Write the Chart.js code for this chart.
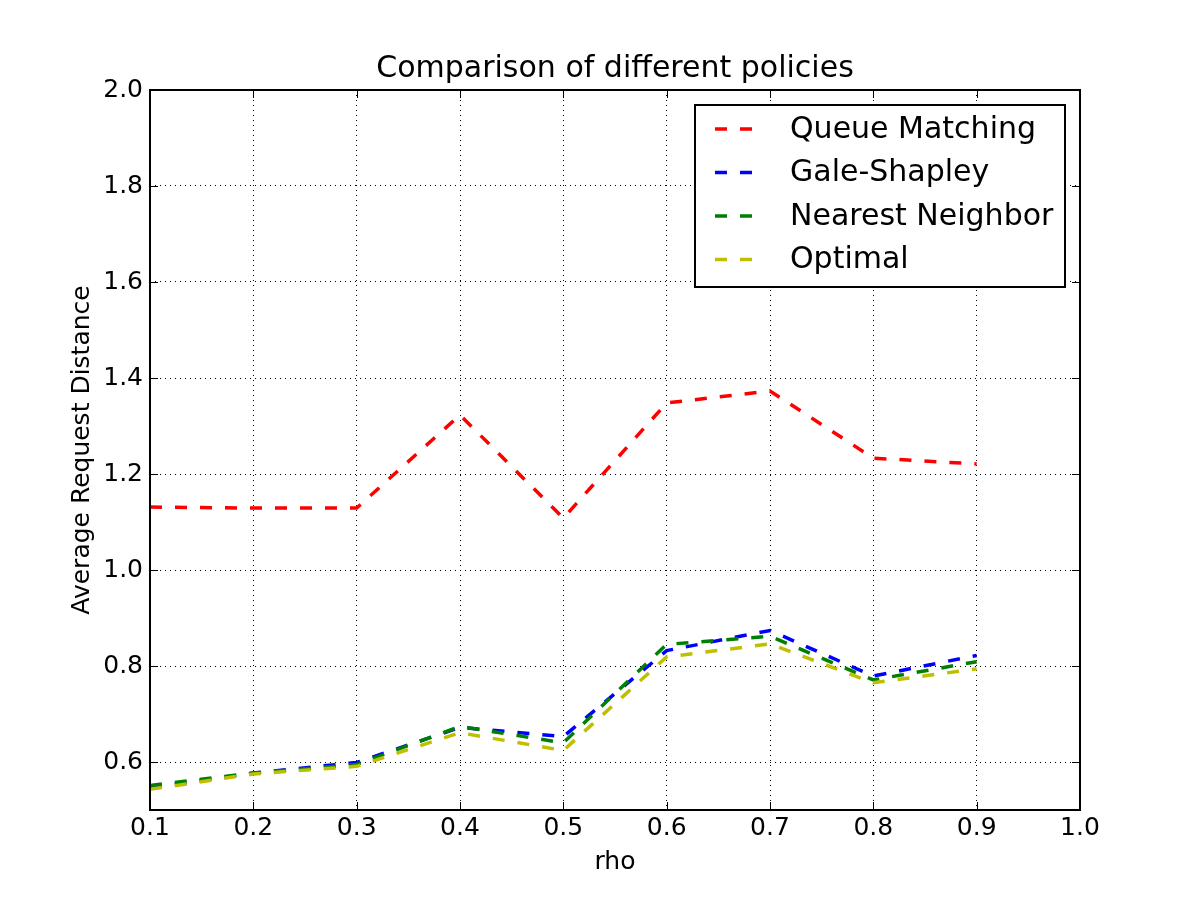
<!DOCTYPE html>
<html>
<head>
<meta charset="utf-8">
<script src="https://cdn.jsdelivr.net/npm/chart.js"></script>
<style>
  html, body { margin: 0; padding: 0; background: #fff; }
  #wrap { width: 1200px; height: 900px; }
</style>
</head>
<body>
<div id="wrap"><canvas id="chart" width="1200" height="900"></canvas></div>
<script>
// 데이터
const rho = [0.1, 0.2, 0.3, 0.4, 0.5, 0.6, 0.7, 0.8, 0.9];
const queueMatching = [1.131, 1.129, 1.129, 1.323, 1.108, 1.348, 1.373, 1.233, 1.221];
const galeShapley = [0.546, 0.577, 0.599, 0.672, 0.653, 0.832, 0.874, 0.779, 0.822];
const nearestNeighbor = [0.551, 0.577, 0.595, 0.674, 0.640, 0.845, 0.862, 0.771, 0.809];
const optimal = [0.543, 0.575, 0.591, 0.661, 0.624, 0.819, 0.846, 0.765, 0.794];
const seriesNames = ['Queue Matching', 'Gale-Shapley', 'Nearest Neighbor', 'Optimal'];
const xTicks = [0.1, 0.2, 0.3, 0.4, 0.5, 0.6, 0.7, 0.8, 0.9, 1.0];
const yTicks = [0.6, 0.8, 1.0, 1.2, 1.4, 1.6, 1.8, 2.0];

const FONT = "'DejaVu Sans', sans-serif";
const DASH = [12, 13];

function toPoints(values) {
  return rho.map((x, i) => ({ x: x, y: values[i] }));
}

function makeSet(label, values, color, order) {
  return {
    label: label,
    data: toPoints(values),
    borderColor: color,
    backgroundColor: color,
    borderWidth: 3.5,
    borderDash: DASH,
    borderCapStyle: 'butt',
    pointRadius: 0,
    fill: false,
    tension: 0,
    order: order
  };
}

// 제목, 범례, 안쪽 눈금 그리기
const decorPlugin = {
  id: 'decor',
  afterDraw(chart) {
    const ctx = chart.ctx;
    const area = chart.chartArea;
    const xs = chart.scales.x;
    const ys = chart.scales.y;

    ctx.save();
    // 테두리
    ctx.strokeStyle = '#000';
    ctx.lineWidth = 2;
    ctx.setLineDash([]);
    ctx.strokeRect(area.left, area.top, area.right - area.left, area.bottom - area.top);

    // 안쪽 눈금
    ctx.lineWidth = 1;
    const len = 8;
    xTicks.forEach(v => {
      const px = Math.round(xs.getPixelForValue(v)) + 0.5;
      ctx.beginPath();
      ctx.moveTo(px, area.bottom); ctx.lineTo(px, area.bottom - len);
      ctx.moveTo(px, area.top); ctx.lineTo(px, area.top + len);
      ctx.stroke();
    });
    yTicks.forEach(v => {
      const py = Math.round(ys.getPixelForValue(v)) + 0.5;
      ctx.beginPath();
      ctx.moveTo(area.left, py); ctx.lineTo(area.left + len, py);
      ctx.moveTo(area.right, py); ctx.lineTo(area.right - len, py);
      ctx.stroke();
    });

    // 제목
    ctx.fillStyle = '#000';
    ctx.font = '30px ' + FONT;
    ctx.textAlign = 'center';
    ctx.textBaseline = 'middle';
    ctx.fillText('Comparison of different policies', (area.left + area.right) / 2, 69);

    // 범례
    const box = { x: 695, y: 105, w: 370, h: 182 };
    ctx.fillStyle = '#fff';
    ctx.fillRect(box.x, box.y, box.w, box.h);
    ctx.lineWidth = 2;
    ctx.strokeStyle = '#000';
    ctx.strokeRect(box.x, box.y, box.w, box.h);
    ctx.font = '30px ' + FONT;
    ctx.textAlign = 'left';
    chart.data.datasets.forEach((ds, i) => {
      const cy = box.y + 24 + i * 43.5;
      ctx.strokeStyle = ds.borderColor;
      ctx.lineWidth = 3.5;
      ctx.setLineDash([12, 13]);
      ctx.beginPath();
      ctx.moveTo(715, cy);
      ctx.lineTo(752, cy);
      ctx.stroke();
      ctx.setLineDash([]);
      ctx.fillStyle = '#000';
      ctx.fillText(ds.label, 790, cy + 1);
    });
    ctx.restore();
  }
};

const ctx = document.getElementById('chart').getContext('2d');
new Chart(ctx, {
  type: 'line',
  data: {
    datasets: [
      makeSet(seriesNames[0], queueMatching, '#ff0000', 4),
      makeSet(seriesNames[1], galeShapley, '#0000ff', 3),
      makeSet(seriesNames[2], nearestNeighbor, '#008000', 2),
      makeSet(seriesNames[3], optimal, '#bfbf00', 1)
    ]
  },
  options: {
    responsive: false,
    animation: false,
    layout: { padding: { left: 0, top: 90, right: 120, bottom: 0 } },
    plugins: {
      legend: { display: false },
      tooltip: { enabled: false },
      title: { display: false }
    },
    scales: {
      x: {
        type: 'linear',
        min: 0.1,
        max: 1.0,
        afterFit(scale) { scale.height = 90; },
        afterBuildTicks(scale) { scale.ticks = xTicks.map(v => ({ value: v })); },
        border: { display: false, dash: [1, 4] },
        grid: {
          color: '#000',
          lineWidth: 1,
          drawTicks: false
        },
        ticks: {
          color: '#000',
          font: { family: FONT, size: 25 },
          padding: 3,
          maxRotation: 0,
          callback: v => v.toFixed(1)
        },
        title: {
          display: true,
          text: 'rho',
          color: '#000',
          font: { family: FONT, size: 25 },
          padding: { top: 0, bottom: 23 }
        }
      },
      y: {
        type: 'linear',
        min: 0.5,
        max: 2.0,
        afterFit(scale) { scale.width = 150; },
        afterBuildTicks(scale) { scale.ticks = yTicks.map(v => ({ value: v })); },
        border: { display: false, dash: [1, 4] },
        grid: {
          color: '#000',
          lineWidth: 1,
          drawTicks: false
        },
        ticks: {
          color: '#000',
          font: { family: FONT, size: 25 },
          padding: 7,
          callback: v => v.toFixed(1)
        },
        title: {
          display: true,
          text: 'Average Request Distance',
          color: '#000',
          font: { family: FONT, size: 25 },
          padding: { top: 67, bottom: 0 }
        }
      }
    }
  },
  plugins: [decorPlugin]
});
</script>
</body>
</html>
